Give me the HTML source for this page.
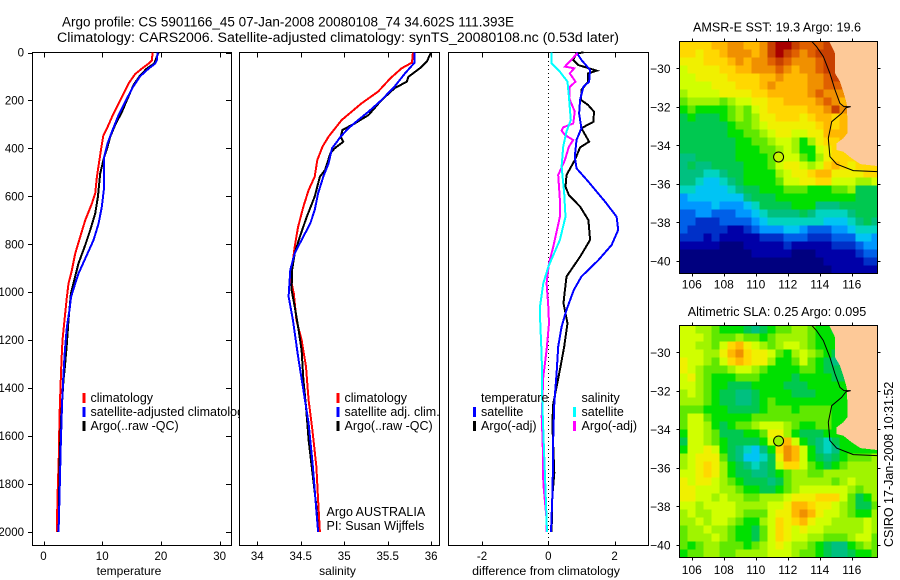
<!DOCTYPE html>
<html lang="en">
<head>
<meta charset="utf-8">
<title>Argo profile</title>
<style>
html,body{margin:0;padding:0;background:#fff;}
svg{display:block;font-family:"Liberation Sans",sans-serif;fill:#000;}
</style>
</head>
<body>
<svg id="fig" xmlns="http://www.w3.org/2000/svg" width="900" height="580" viewBox="0 0 900 580">
<rect x="0" y="0" width="900" height="580" fill="#fff"/>
<text x="62" y="26.5" font-size="14.2" textLength="452" lengthAdjust="spacingAndGlyphs">Argo profile: CS 5901166_45 07-Jan-2008 20080108_74 34.602S 111.393E</text>
<text x="57" y="42" font-size="14.2" textLength="562" lengthAdjust="spacingAndGlyphs">Climatology: CARS2006. Satellite-adjusted climatology: synTS_20080108.nc (0.53d later)</text>

<g id="p1">
<rect x="32.5" y="52.5" width="199" height="493" fill="#fff" stroke="#000"/>
<g id="p1-marks"></g>
<rect x="82.5" y="393" width="3" height="10" fill="#f00"/>
<rect x="82.5" y="407" width="3" height="10" fill="#00f"/>
<rect x="82.5" y="421" width="3" height="10" fill="#000"/>
<text x="90.5" y="402" font-size="12.5">climatology</text>
<text x="90.5" y="416" font-size="12.5">satellite-adjusted climatology</text>
<text x="90.5" y="430" font-size="12.5">Argo(..raw -QC)</text>
<text x="129" y="575" font-size="12" text-anchor="middle">temperature</text>
</g>

<g id="p2">
<rect x="239.5" y="52.5" width="200" height="493" fill="#fff" stroke="#000"/>
<g id="p2-marks"></g>
<rect x="336.5" y="393" width="3" height="10" fill="#f00"/>
<rect x="336.5" y="407" width="3" height="10" fill="#00f"/>
<rect x="336.5" y="421" width="3" height="10" fill="#000"/>
<text x="344.5" y="402" font-size="12.5">climatology</text>
<text x="344.5" y="416" font-size="12.5">satellite adj. clim.</text>
<text x="344.5" y="430" font-size="12.5">Argo(..raw -QC)</text>
<text x="326.5" y="516" font-size="12.5">Argo AUSTRALIA</text>
<text x="326.5" y="530" font-size="12.5">PI: Susan Wijffels</text>
<text x="337.5" y="575" font-size="12" text-anchor="middle">salinity</text>
</g>

<g id="p3">
<rect x="448.5" y="52.5" width="200" height="493" fill="#fff" stroke="#000"/>
<g id="p3-marks"></g>
<text x="481" y="402" font-size="12.5">temperature</text>
<rect x="473" y="407" width="3" height="10" fill="#00f"/>
<rect x="473" y="421" width="3" height="10" fill="#000"/>
<text x="481" y="416" font-size="12.5">satellite</text>
<text x="481" y="430" font-size="12.5">Argo(-adj)</text>
<text x="581.5" y="402" font-size="12.5">salinity</text>
<rect x="573" y="407" width="3" height="10" fill="#0ff"/>
<rect x="573" y="421" width="3" height="10" fill="#f0f"/>
<text x="581.5" y="416" font-size="12.5">satellite</text>
<text x="581.5" y="430" font-size="12.5">Argo(-adj)</text>
<text x="546" y="575" font-size="12.4" text-anchor="middle">difference from climatology</text>
</g>

<g id="m1">
<text x="777" y="31.5" font-size="12.6" text-anchor="middle">AMSR-E SST: 19.3 Argo: 19.6</text>
</g>
<g id="m2">
<text x="777" y="316" font-size="12.6" text-anchor="middle">Altimetric SLA: 0.25 Argo: 0.095</text>
</g>
<text transform="translate(893,547) rotate(-90)" font-size="12.5">CSIRO 17-Jan-2008 10:31:52</text>
</svg>

<script>
// ---------- profile data (depth in m, value in physical units) ----------
const depthTicks = [0,200,400,600,800,1000,1200,1400,1600,1800,2000];
const tempTicks = [0,10,20,30];
const salTicks = [34,34.5,35,35.5,36];
const salTickLabels = ["34","34.5","35","35.5","36"];
const diffTicks = [-2,0,2];

const tempClimDepth = [0,32,46,67,90,129,185,255,317,345,400,463,519,588,630,700,769,839,908,964,1019,1088,1158,1200,1283,1394,1519,1686,1853,2000];
const tempClimValue = [18.58,18.47,17.9,16.76,15.6,14.5,13.35,11.93,10.8,10.2,9.83,9.43,9.09,8.8,8.24,7.1,6.25,5.4,4.83,4.26,3.98,3.69,3.4,3.24,3.07,2.9,2.73,2.61,2.39,2.27];
const tempArgoDepth = [0,18,46,67,95,136,199,248,303,352,394,435,505,602,672,741,804,880,950,1006,1116,1213,1311,1366,1519,1631,1728,1965,2000];
const tempArgoValue = [19.6,19.3,18.86,17.6,16.48,15.34,14.2,13.35,12.2,11.36,10.9,10.34,9.66,9.26,8.8,7.95,7.1,5.97,5.23,4.66,4.26,3.98,3.64,3.4,3.01,2.84,2.73,2.61,2.5];
const tempSatDepth = [0,32,46,67,99,140,206,261,331,380,435,574,644,713,783,860,922,964,1019,1074,1144,1241,1338,1449,1631,1853,1965,2000];
const tempSatValue = [19.43,19.3,19.03,17.9,16.48,15.34,13.9,12.78,11.65,10.9,10.34,10.28,9.94,9.38,8.52,7.1,5.97,5.4,4.7,4.43,3.98,3.64,3.4,3.18,2.95,2.73,2.61,2.56];

const salClimDepth = [0,42,66,108,163,212,282,351,393,449,518,574,643,727,810,894,963,1005,1116,1199,1311,1450,1561,1728,1867,2000];
const salClimValue = [35.79,35.78,35.66,35.53,35.39,35.2,34.97,34.82,34.75,34.69,34.66,34.59,34.53,34.47,34.43,34.4,34.395,34.42,34.45,34.51,34.56,34.59,34.63,34.68,34.7,34.72];
const salArgoDepth = [0,38,66,101,122,149,198,261,296,323,351,372,400,421,490,518,601,685,768,838,907,991,1060,1144,1241,1366,1477,1616,1770,1895,2000];
const salArgoValue = [36.0,35.95,35.87,35.74,35.72,35.58,35.43,35.28,35.12,34.98,34.96,34.99,34.89,34.84,34.78,34.72,34.66,34.57,34.49,34.43,34.4,34.395,34.43,34.47,34.51,34.53,34.56,34.59,34.64,34.68,34.7];
const salSatDepth = [0,42,87,142,198,247,282,316,351,400,462,518,588,657,713,782,838,907,1018,1116,1269,1408,1547,1728,1867,2000];
const salSatValue = [35.81,35.81,35.7,35.58,35.43,35.28,35.16,35.05,34.96,34.86,34.82,34.76,34.7,34.66,34.61,34.51,34.43,34.38,34.36,34.41,34.47,34.53,34.59,34.64,34.67,34.7];

const diffTempSatDepth = [0,31,73,122,143,198,254,316,365,435,483,539,622,685,740,803,866,935,991,1074,1144,1227,1338,1463,1588,1825,2000];
const diffTempSatValue = [0.85,1.0,1.26,1.23,1.06,0.96,0.93,1.0,0.85,0.8,0.85,1.21,1.71,2.06,2.11,1.91,1.51,1.0,0.77,0.55,0.4,0.3,0.25,0.18,0.15,0.13,0.08];
const diffTempArgoDepth = [0,3,31,52,76,87,122,156,198,219,247,289,316,372,396,449,511,560,595,643,699,782,852,935,1018,1046,1130,1227,1324,1463,1547,1755,1852,2000];
const diffTempArgoValue = [1.06,0.85,0.75,0.9,1.46,1.2,1.2,1.0,0.99,1.2,1.38,1.36,1.0,1.23,0.96,0.8,0.55,0.52,0.62,0.96,1.21,1.26,0.96,0.55,0.48,0.46,0.58,0.48,0.35,0.15,0.12,0.18,0.12,0.1];
const diffSalArgoDepth = [3,59,66,87,122,143,191,247,296,312,326,344,365,393,449,511,615,685,810,879,963,1060,1130,1241,1352,1519,1630,1797,1950,2000];
const diffSalArgoValue = [0.88,0.5,0.78,0.65,0.82,0.65,0.63,0.8,0.75,0.45,0.4,0.5,0.75,0.62,0.5,0.3,0.35,0.35,0.15,0.02,-0.05,0,0.02,-0.05,-0.15,-0.2,-0.17,-0.15,-0.05,-0.05];
const diffSalSatDepth = [0,45,80,122,184,282,330,393,476,587,685,782,894,963,1060,1102,1269,1463,1658,1880,2000];
const diffSalSatValue = [0.1,0.1,0.35,0.58,0.62,0.68,0.55,0.45,0.4,0.48,0.52,0.35,0,-0.15,-0.25,-0.25,-0.2,-0.18,-0.13,-0.07,-0.04];

// ---------- map data ----------
const lonTicks = [106,108,110,112,114,116];
const latTicks = [-30,-32,-34,-36,-38,-40];
const floatLon = 111.393;
const floatLat = -34.602;
const landLon = [114.56,114.92,114.92,115.23,115.44,115.65,115.69,115.69,115.44,115.0,115.0,115.44,115.96,116.5,117.56,117.56];
const landLat = [-28.6,-29.22,-30.26,-30.69,-31.21,-31.82,-32.51,-33.37,-33.63,-33.9,-34.24,-34.33,-34.67,-34.97,-35.07,-28.6];
const coastLon = [113.46,113.77,114.19,114.6,114.92,115.23,115.48,115.9,115.6,115.33,114.71,114.5,114.6,115.02,116.06,117.56];
const coastLat = [-28.6,-28.88,-29.39,-30.26,-31.12,-31.82,-31.99,-31.99,-32.05,-32.34,-32.77,-33.63,-34.58,-34.97,-35.31,-35.36];
const levelColors = ["#00007f","#0000a8","#0030c8","#0060e8","#0098ff","#00c4f4","#00d4c0","#00c080","#00c850","#00e000","#60e800","#a0f400","#d0ff00","#f0f000","#ffd800","#ffb800","#f09000","#e06000","#c84000","#a80000"];
const sstLevels = [
[14,14,14,14,15,15,16,16,15,15,16,18,19,19,18,17,17,17,18,18,18,18],
[14,14,13,14,14,15,16,16,16,15,16,18,19,18,17,16,17,18,18,18,18,18],
[13,13,13,14,14,14,15,16,15,16,16,17,18,17,16,16,16,17,18,18,18,18],
[12,13,13,13,13,14,14,15,15,16,16,16,17,16,15,16,16,17,18,18,18,18],
[12,12,13,13,13,13,14,14,14,14,15,15,16,15,15,15,16,16,17,18,18,18],
[12,12,12,12,13,13,13,14,14,14,15,16,15,15,15,15,16,16,17,17,17,17],
[11,12,12,12,12,13,13,13,13,14,14,15,15,15,15,15,16,17,16,16,16,16],
[10,11,11,11,11,10,11,12,12,13,13,14,14,15,15,15,15,16,17,16,15,15],
[9,10,9,9,9,9,10,11,10,12,13,14,14,14,14,14,15,15,16,18,16,15],
[8,9,8,8,8,9,10,11,10,11,13,13,14,14,14,13,14,15,15,14,15,15],
[8,8,8,8,8,8,9,10,10,11,12,13,13,13,13,13,13,14,15,14,15,15],
[8,8,8,8,8,8,9,9,10,10,11,12,13,13,12,12,13,13,15,15,15,15],
[8,8,8,8,8,8,8,9,9,10,10,11,12,12,11,9,11,13,14,14,15,16],
[8,8,8,8,8,8,8,9,9,9,10,10,11,12,11,9,9,12,13,14,14,14],
[7,7,8,8,8,8,8,9,9,9,9,10,11,12,12,10,9,11,13,14,14,14,14],
[7,8,7,7,8,8,8,8,9,9,9,10,12,13,13,12,11,12,14,15,14,13,14,14,14],
[7,7,7,6,6,7,8,8,9,9,9,9,11,12,13,13,14,15,15,13,13,13,13,14,14],
[7,7,6,5,5,6,7,8,9,9,9,9,10,12,12,13,13,14,14,12,12,12,11,11,12],
[6,6,5,5,5,5,6,7,8,8,9,9,9,10,10,10,9,9,9,10,10,11,8,8,8],
[4,5,5,5,5,5,5,5,7,8,8,8,9,9,9,9,9,9,9,9,9,9,8,8,8],
[4,4,4,4,5,4,4,4,5,6,8,8,8,8,9,9,9,7,7,7,8,8,8,8,8],
[3,3,4,4,3,3,3,4,4,5,6,7,7,7,7,8,7,6,6,6,6,7,8,8,8],
[3,3,2,2,2,3,3,3,3,4,5,6,6,6,6,6,6,6,5,5,5,6,7,8,7],
[3,2,2,2,2,2,1,1,2,3,4,4,4,5,5,4,3,3,3,4,4,5,6,6,6],
[2,2,2,1,2,1,1,1,1,1,2,2,2,3,3,3,2,2,2,3,3,3,5,5,4],
[1,1,1,1,1,0,0,0,1,1,1,1,1,2,1,1,1,1,1,2,2,2,3,4,4],
[0,0,0,0,0,0,0,0,0,1,1,1,1,1,0,0,0,1,1,1,1,1,2,3,3],
[0,0,0,0,0,0,0,0,0,0,0,0,0,0,0,0,0,0,1,1,1,1,1,2,2],
[0,0,0,0,0,0,0,0,0,0,0,0,0,0,0,0,0,0,0,1,1,1,1,1,1]
];
const slaLevels = [
[12,12,11,11,10,9,9,9,8,7,8,9,10,10,11,11,10,9,9,8,8,8],
[12,12,12,11,10,10,10,11,10,10,9,10,11,11,11,11,10,9,9,9,8,8],
[12,12,11,11,10,12,14,15,13,12,11,10,11,12,12,11,10,9,9,9,9,9],
[12,12,12,11,11,13,15,16,14,13,13,12,10,9,11,12,11,10,9,8,8,8],
[13,12,12,11,10,12,14,15,14,13,13,11,9,9,10,12,10,9,8,7,8,8],
[13,12,11,10,10,10,11,12,12,11,10,9,9,9,9,10,10,9,8,8,8,8],
[12,13,11,10,9,9,9,10,10,10,9,9,9,9,8,9,9,9,9,8,8,8],
[12,12,11,10,9,9,8,8,8,9,9,9,9,8,8,8,9,9,9,9,9,9],
[11,12,11,10,9,8,8,7,7,8,9,9,9,9,8,8,8,9,9,9,9,9],
[11,11,11,10,9,8,8,7,7,8,9,10,9,9,9,9,9,9,9,9,9,9],
[10,10,10,9,9,9,8,8,8,8,9,10,10,10,9,10,10,10,10,9,9,9],
[10,12,12,10,9,9,9,9,9,10,10,10,10,10,10,10,10,10,10,9,9,9],
[10,12,12,11,9,8,9,10,10,11,12,12,12,11,10,9,9,10,10,9,9,9],
[9,12,12,11,10,8,8,8,9,9,10,13,13,11,9,8,8,8,9,9,9,9],
[8,12,12,11,10,9,8,8,8,8,9,12,14,15,12,9,8,7,6,8,9,9],
[9,12,12,13,12,9,8,7,6,5,7,9,14,16,15,12,9,7,6,7,9,9,9,9,9],
[11,12,13,13,13,10,8,7,5,5,6,8,13,16,15,12,9,8,7,8,9,10,10,10,11],
[11,12,13,14,13,11,9,8,7,6,7,8,12,14,14,12,10,9,8,9,10,11,11,11,11],
[12,12,13,14,13,11,9,8,8,7,7,8,9,10,11,11,10,10,11,11,11,11,11,11,11],
[13,12,13,13,12,11,10,9,8,8,8,7,8,10,11,11,11,11,11,10,11,12,11,11,11],
[13,13,12,12,12,11,11,10,9,9,8,8,9,10,11,12,12,12,12,12,12,11,10,11,11],
[13,13,12,12,11,12,11,11,10,10,11,11,11,12,13,13,13,14,14,14,12,10,8,9,11],
[12,12,11,12,12,12,12,11,11,11,11,12,12,13,15,15,14,13,13,12,11,10,8,8,10],
[11,12,11,11,12,12,12,11,10,10,10,12,13,13,15,16,15,13,12,12,11,10,9,9,11],
[11,11,12,11,12,12,11,10,9,9,11,12,14,13,14,15,13,12,12,11,11,11,11,12,11],
[10,11,11,12,11,11,10,9,9,8,10,12,14,13,12,13,12,12,11,11,11,11,11,12,11],
[10,11,11,11,12,11,10,9,9,8,10,12,14,13,12,12,11,11,10,10,10,11,12,12,10],
[10,9,10,11,11,10,10,10,9,10,11,12,13,12,11,11,10,9,8,7,7,9,10,11,10],
[9,10,10,11,11,10,10,11,11,11,11,12,12,12,11,10,10,9,8,7,7,8,9,9,10]
];

// ---------- axis functions ----------
const yDepth = d => 52.5 + d * 0.2397;
const xTemp = v => 43.5 + v * 5.87;
const xSal = v => 257.3 + (v - 34) * 86.9;
const xDiff = v => 548.3 + v * 33.15;
const xLon = lon => 692.3 + (lon - 106) * 16;
const yLatTop = lat => 68.3 + (-30 - lat) * 19.27;
const yLatBottom = lat => 352.3 + (-30 - lat) * 19.27;

const NS = "http://www.w3.org/2000/svg";
function mk(tag, parent, attrs) {
  const el = document.createElementNS(NS, tag);
  for (const k in attrs) el.setAttribute(k, attrs[k]);
  parent.appendChild(el);
  return el;
}
function pointsFor(xs, ys, fx, fy) {
  return xs.map((v, i) => fx(v).toFixed(1) + "," + fy(ys[i]).toFixed(1)).join(" ");
}
function drawProfile(parent, name, values, depths, fx, color, width) {
  const line = mk("polyline", parent, {
    points: pointsFor(values, depths, fx, yDepth),
    fill: "none",
    stroke: color,
    "stroke-width": width,
    "shape-rendering": "crispEdges"
  });
  
  
}
function tickLine(parent, x1, y1, x2, y2) {
  const t = mk("line", parent, {x1: x1, y1: y1, x2: x2, y2: y2, stroke: "#000", "stroke-width": 1, "shape-rendering": "crispEdges"});
  
  
}
function tickLabel(parent, x, y, txt, anchor, size) {
  const t = mk("text", parent, {x: x, y: y, "font-size": size, "text-anchor": anchor});
  t.textContent = txt;
  
  
}
function xAxisTicks(parent, ticks, labels, fx) {
  ticks.forEach((v, i) => {
    const x = Math.round(fx(v)) + 0.5;
    tickLine(parent, x, 52.5, x, 57.5);
    tickLine(parent, x, 541.5, x, 545.5);
    tickLabel(parent, fx(v), 560, labels[i], "middle", 11.5);
  });
}

// ---------- panels ----------
const p1 = document.getElementById("p1-marks");
const p2 = document.getElementById("p2-marks");
const p3 = document.getElementById("p3-marks");

depthTicks.forEach(d => {
  const y = Math.round(yDepth(d)) + 0.5;
  tickLine(p1, 28, y, 32.5, y);
  tickLine(p1, 226, y, 231.5, y);
  tickLabel(p1, 24, yDepth(d) + 4, String(d), "end", 11.5);
});
xAxisTicks(p1, tempTicks, tempTicks.map(String), xTemp);
xAxisTicks(p2, salTicks, salTickLabels, xSal);
xAxisTicks(p3, diffTicks, diffTicks.map(String), xDiff);

drawProfile(p1, "temperature-climatology-line", tempClimValue, tempClimDepth, xTemp, "#f00", 2);
drawProfile(p1, "temperature-argo-line", tempArgoValue, tempArgoDepth, xTemp, "#000", 2);
drawProfile(p1, "temperature-satellite-line", tempSatValue, tempSatDepth, xTemp, "#00f", 2);

drawProfile(p2, "salinity-climatology-line", salClimValue, salClimDepth, xSal, "#f00", 2);
drawProfile(p2, "salinity-argo-line", salArgoValue, salArgoDepth, xSal, "#000", 2);
drawProfile(p2, "salinity-satellite-line", salSatValue, salSatDepth, xSal, "#00f", 2);

const zero = mk("line", p3, {x1: xDiff(0), y1: 53, x2: xDiff(0), y2: 545, stroke: "#000", "stroke-width": 1, "stroke-dasharray": "1 3", "shape-rendering": "crispEdges"});



drawProfile(p3, "difference-temperature-argo-line", diffTempArgoValue, diffTempArgoDepth, xDiff, "#000", 2);
drawProfile(p3, "difference-temperature-satellite-line", diffTempSatValue, diffTempSatDepth, xDiff, "#00f", 2);
drawProfile(p3, "difference-salinity-argo-line", diffSalArgoValue, diffSalArgoDepth, xDiff, "#f0f", 2);
drawProfile(p3, "difference-salinity-satellite-line", diffSalSatValue, diffSalSatDepth, xDiff, "#0ff", 2);

// ---------- maps ----------
function drawMap(groupId, levels, yLat, top, bottom, markerFill, labelY) {
  const g = document.getElementById(groupId);
  const left = 679.5, right = 877.5;
  const lonStep = 0.5, latStep = 0.415;
  const lon0 = (left - 692.3) / 16 + 106;
  const lat0 = -30 + (yLat(-30) - top) / 19.27;
  const cells = mk("g", g, {"shape-rendering": "crispEdges"});
  
  
  levels.forEach((row, r) => {
    row.forEach((lev, c) => {
      const x1 = xLon(lon0 + c * lonStep);
      const x2 = Math.min(xLon(lon0 + (c + 1) * lonStep), right);
      const y1 = yLat(lat0 - r * latStep);
      const y2 = Math.min(yLat(lat0 - (r + 1) * latStep), bottom);
      const rect = mk("rect", cells, {x: x1.toFixed(1), y: y1.toFixed(1), width: (x2 - x1 + 0.5).toFixed(1), height: (y2 - y1 + 0.5).toFixed(1), fill: levelColors[Math.max(0, Math.min(19, lev))]});
      
      
    });
  });
  const land = mk("polygon", g, {points: pointsFor(landLon, landLat, xLon, yLat), fill: "#fdc998", "shape-rendering": "crispEdges"});
  
  
  const coast = mk("polyline", g, {points: pointsFor(coastLon, coastLat, xLon, yLat), fill: "none", stroke: "#000", "stroke-width": 1});
  
  
  const box = mk("rect", g, {x: left, y: top, width: right - left, height: bottom - top, fill: "none", stroke: "#000", "shape-rendering": "crispEdges"});
  
  
  const marker = mk("circle", g, {cx: xLon(floatLon), cy: yLat(floatLat), r: 5, fill: markerFill, stroke: "#000", "stroke-width": 1});
  
  
  lonTicks.forEach(lon => {
    const x = Math.round(xLon(lon)) + 0.5;
    tickLine(g, x, top - 3, x, top);
    tickLine(g, x, bottom, x, bottom + 3);
    tickLabel(g, xLon(lon) - 0.5, labelY, String(lon), "middle", 12);
  });
  latTicks.forEach(lat => {
    const y = Math.round(yLat(lat)) + 0.5;
    tickLine(g, left - 3, y, left, y);
    tickLine(g, right, y, right + 3, y);
    tickLabel(g, 670.5, yLat(lat) + 4.5, "\u2212" + Math.abs(lat), "end", 12);
  });
}
drawMap("m1", sstLevels, yLatTop, 41.5, 273.5, "#c8f400", 288.5);
drawMap("m2", slaLevels, yLatBottom, 325.5, 557.5, "#a0f000", 574);
</script>
</body>
</html>
